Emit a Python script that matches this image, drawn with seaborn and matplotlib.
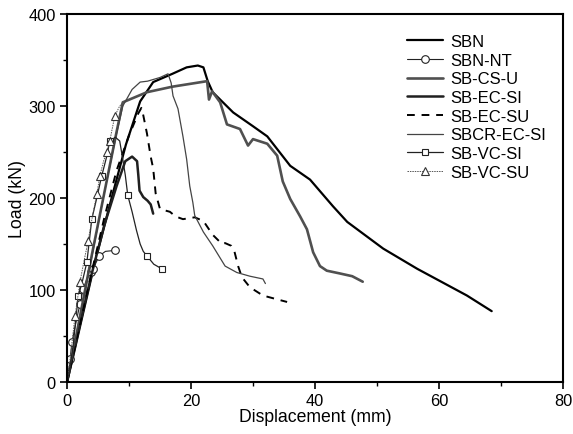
import matplotlib
matplotlib.use("Agg")
import matplotlib.pyplot as plt
import seaborn as sns
import pandas as pd

# ---- data (displacement mm, load kN) ----
sbn_x = [0, 1, 2.5, 4.5, 7, 9.5, 11.8, 13.9, 17, 19.3, 21.1, 22, 22.7, 23.5, 26.8, 30, 32.3, 36, 39.2, 42.9, 45.2, 51, 56.5, 64.5, 68.5]
sbn_y = [0, 28, 72, 130, 195, 258, 305, 326, 335, 342, 344, 342, 327, 315, 293, 278, 267, 235, 220, 191, 174, 145, 123, 94, 77]

sbnnt_x = [0, 0.3, 0.5, 0.8, 1.3, 2.1, 2.6, 3.2, 3.9, 4.2, 5.2, 6.2, 7.7]
sbnnt_y = [0, 12, 25, 43, 60, 85, 101, 112, 120, 123, 137, 142, 143]

sbcsu_x = [0, 1, 2, 4, 6, 8, 9, 12.9, 17, 22.6, 22.9, 23.4, 24.7, 25.8, 27.9, 29.2, 30, 32.3, 33.9, 34.8, 36, 37.6, 38.7, 39.7, 40.8, 41.9, 44, 46, 47.7]
sbcsu_y = [0, 33, 68, 138, 205, 272, 304, 315, 321, 327, 307, 316, 304, 280, 275, 257, 264, 259, 246, 218, 199, 180, 166, 141, 126, 121, 118, 115, 109]

sbecsi_x = [0, 2, 4, 6, 8, 9.4, 10.5, 11.3, 11.5, 11.7, 12.3, 13, 13.5, 13.7, 13.9]
sbecsi_y = [0, 60, 118, 170, 213, 240, 245, 240, 225, 208, 201, 197, 193, 188, 183]

sbecsu_x = [0, 2, 4, 6, 8, 10, 11.5, 12, 12.3, 12.9, 13.5, 13.9, 14.3, 15, 16.6, 17.5, 18.7, 20.6, 22, 23.5, 25, 25.5, 26.5, 27, 27.6, 28.2, 29.5, 31.6, 33.8, 35.5]
sbecsu_y = [0, 60, 120, 178, 230, 268, 292, 298, 290, 270, 245, 232, 205, 188, 185, 180, 177, 179, 175, 160, 150, 151, 148, 142, 126, 114, 103, 94, 90, 87]

sbcr_x = [0, 2, 4, 6, 8, 9, 10.5, 11.8, 13, 15, 16.3, 16.8, 17.1, 17.9, 18.7, 19.3, 19.8, 20.3, 20.6, 22, 23.5, 25.5, 27.4, 29.5, 31.6, 32]
sbcr_y = [0, 68, 136, 205, 270, 300, 318, 326, 327, 331, 335, 325, 311, 297, 267, 242, 213, 195, 181, 163, 148, 126, 119, 115, 112, 107]

sbvcsi_x = [0, 0.5, 1, 1.8, 2.5, 3.2, 4, 4.8, 5.6, 6.4, 6.9, 7.8, 8.5, 8.9, 9.4, 9.8, 10.5, 11.2, 11.8, 12.3, 12.9, 14, 15.3]
sbvcsi_y = [0, 18, 40, 93, 110, 130, 177, 200, 224, 245, 262, 266, 262, 246, 225, 203, 185, 165, 150, 142, 137, 128, 123]

sbvcsu_x = [0, 0.5, 1.3, 2.1, 2.7, 3.4, 4.1, 4.8, 5.3, 5.9, 6.4, 6.9, 7.7, 8.5, 9.2]
sbvcsu_y = [0, 25, 72, 109, 130, 153, 180, 204, 224, 240, 250, 262, 289, 300, 305]

x_ticks = [0, 20, 40, 60, 80]
y_ticks = [0, 100, 200, 300, 400]

sns.set_style("ticks")
plt.rcParams['font.family'] = ['Liberation Sans', 'DejaVu Sans']
plt.rcParams['text.color'] = 'black'
plt.rcParams['axes.labelcolor'] = 'black'
plt.rcParams['xtick.color'] = 'black'
plt.rcParams['ytick.color'] = 'black'

fig = plt.figure(figsize=(5.73, 4.35), dpi=100)
ax = fig.add_axes([67/573, 1-383/435, 496/573, (383-15)/435])

def draw(x, y, label, **kw):
    df = pd.DataFrame({"x": x, "y": y})
    sns.lineplot(data=df, x="x", y="y", ax=ax, sort=False, estimator=None, label=label, **kw)

draw(sbn_x, sbn_y, "SBN", color="black", lw=1.6)
draw(sbnnt_x, sbnnt_y, "SBN-NT", color="#222222", lw=0.8, marker="o", markersize=5.5,
     markerfacecolor="white", markeredgecolor="#222222", markeredgewidth=0.8,
     markevery=[2, 3, 5, 6, 8, 9, 10, 12])
draw(sbcsu_x, sbcsu_y, "SB-CS-U", color="#505050", lw=1.9)
draw(sbecsi_x, sbecsi_y, "SB-EC-SI", color="#202020", lw=1.8)
draw(sbecsu_x, sbecsu_y, "SB-EC-SU", color="black", lw=1.4, linestyle=(0, (4, 3.5)))
draw(sbcr_x, sbcr_y, "SBCR-EC-SI", color="#444444", lw=0.9)
draw(sbvcsi_x, sbvcsi_y, "SB-VC-SI", color="#222222", lw=0.9, marker="s", markersize=5,
     markerfacecolor="white", markeredgecolor="#222222", markeredgewidth=0.8,
     markevery=[3, 5, 6, 8, 10, 15, 20, 22])
draw(sbvcsu_x, sbvcsu_y, "SB-VC-SU", color="#555555", lw=0.7, linestyle=(0, (1.5, 1)), marker="^",
     markersize=5.5, markerfacecolor="white", markeredgecolor="#333333", markeredgewidth=0.8,
     markevery=[2, 3, 5, 7, 8, 10, 11, 12])

ax.set_xlim(0, 80)
ax.set_ylim(0, 400)
ax.set_xticks(x_ticks)
ax.set_yticks(y_ticks)
ax.set_xticks([10, 30, 50, 70], minor=True)
ax.set_yticks([50, 150, 250, 350], minor=True)
ax.tick_params(which="major", direction="out", length=5, width=1.2, labelsize=11.8, pad=3,
               colors="black", labelcolor="black")
ax.tick_params(which="minor", direction="out", length=3, width=1.0, colors="black")
for s in ax.spines.values():
    s.set_linewidth(1.5)
    s.set_color("black")
    s.set_visible(True)

ax.set_xlabel("Displacement (mm)", fontsize=12.7, labelpad=0, color="black")
ax.set_ylabel("Load (kN)", fontsize=12.7, labelpad=2, color="black")

leg = ax.legend(loc="upper left", bbox_to_anchor=(407/573, 1-35/435), bbox_transform=fig.transFigure,
                frameon=False, fontsize=12, handlelength=2.15, handletextpad=0.42,
                labelspacing=0.22, borderpad=0, borderaxespad=0, labelcolor="black")

fig.savefig("out.png", dpi=100)
